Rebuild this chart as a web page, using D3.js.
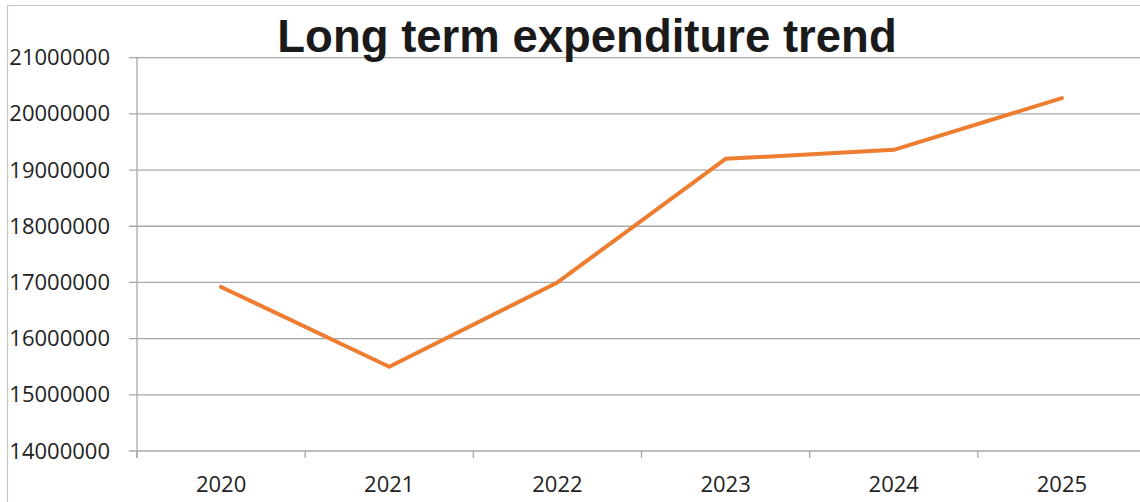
<!DOCTYPE html>
<html>
<head>
<meta charset="utf-8">
<script src="https://cdn.jsdelivr.net/npm/d3@7"></script>
<style>
  body { margin: 0; background: #fff; }
  svg { display: block; }
</style>
</head>
<body>
<div id="chart"></div>
<script>
// values
var years = ["2020", "2021", "2022", "2023", "2024", "2025"];
var expenditure = [16920000, 15500000, 17000000, 19200000, 19360000, 20280000];
var yTicks = [14000000, 15000000, 16000000, 17000000, 18000000, 19000000, 20000000, 21000000];

var width = 1140, height = 502;
var margin = {top: 57.7, right: -6, bottom: 51, left: 137};
var plotW = width - margin.left - margin.right,
    plotH = height - margin.top - margin.bottom;

var svg = d3.select('#chart').append('svg')
  .attr('width', width)
  .attr('height', height);

// outer chart border (runs off the right / bottom edge)
svg.append('rect')
  .attr('x', 7.5).attr('y', 5.5)
  .attr('width', 1200).attr('height', 600)
  .attr('fill', 'none')
  .attr('stroke', '#c8c8c8')
  .attr('stroke-width', 1.2);

var xScale = d3.scaleBand()
  .domain(years)
  .range([0, plotW]);

var yScale = d3.scaleLinear()
  .domain([14000000, 21000000])
  .range([plotH, 0]);

var g = svg.append('g')
  .attr('transform', 'translate(' + margin.left + ',' + margin.top + ')');

// gridlines (extend left as tick marks)
g.append('g').selectAll('line')
  .data(yTicks)
  .enter()
  .append('line')
  .attr('x1', -8)
  .attr('x2', plotW)
  .attr('y1', function(d) { return yScale(d); })
  .attr('y2', function(d) { return yScale(d); })
  .attr('stroke', '#a8a8a8')
  .attr('stroke-width', 1.3);

// y axis labels
var yAxis = d3.axisLeft(yScale)
  .tickValues(yTicks)
  .tickFormat(d3.format('d'))
  .tickSize(8)
  .tickPadding(19);

var yg = g.append('g').call(yAxis);
yg.select('.domain').remove();
yg.selectAll('line').remove();
yg.selectAll('text')
  .attr('font-family', '"Open Sans", sans-serif')
  .attr('font-size', 22)
  .attr('fill', '#222');

// y axis line
g.append('line')
  .attr('x1', 0).attr('x2', 0)
  .attr('y1', 0).attr('y2', plotH + 7)
  .attr('stroke', '#a8a8a8')
  .attr('stroke-width', 1.3);

// x axis labels
var xAxis = d3.axisBottom(xScale)
  .tickSize(0)
  .tickPadding(25);

var xg = g.append('g')
  .attr('transform', 'translate(0,' + plotH + ')')
  .call(xAxis);
xg.select('.domain').remove();
xg.selectAll('text')
  .attr('font-family', '"Open Sans", sans-serif')
  .attr('font-size', 22)
  .attr('fill', '#222');

// tick marks at category boundaries
var bounds = years.map(function(d) { return xScale(d); }).concat([xScale.range()[1]]);
g.append('g').selectAll('line')
  .data(bounds)
  .enter()
  .append('line')
  .attr('x1', function(d) { return d; })
  .attr('x2', function(d) { return d; })
  .attr('y1', plotH)
  .attr('y2', plotH + 7)
  .attr('stroke', '#a8a8a8')
  .attr('stroke-width', 1.3);

// the line
var data = years.map(function(d, i) { return {year: d, value: expenditure[i]}; });
var line = d3.line()
  .x(function(d) { return xScale(d.year) + xScale.bandwidth() / 2; })
  .y(function(d) { return yScale(d.value); });

g.append('path')
  .datum(data)
  .attr('d', line)
  .attr('fill', 'none')
  .attr('stroke', '#ED7D31')
  .attr('stroke-width', 4)
  .attr('stroke-linejoin', 'round')
  .attr('stroke-linecap', 'round');

// title
svg.append('text')
  .attr('x', 587)
  .attr('y', 52)
  .attr('text-anchor', 'middle')
  .attr('font-family', '"Liberation Sans", Arial, sans-serif')
  .attr('font-weight', 'bold')
  .attr('font-size', 45.5)
  .attr('fill', '#1a1a1a')
  .text('Long term expenditure trend');
</script>
</body>
</html>
